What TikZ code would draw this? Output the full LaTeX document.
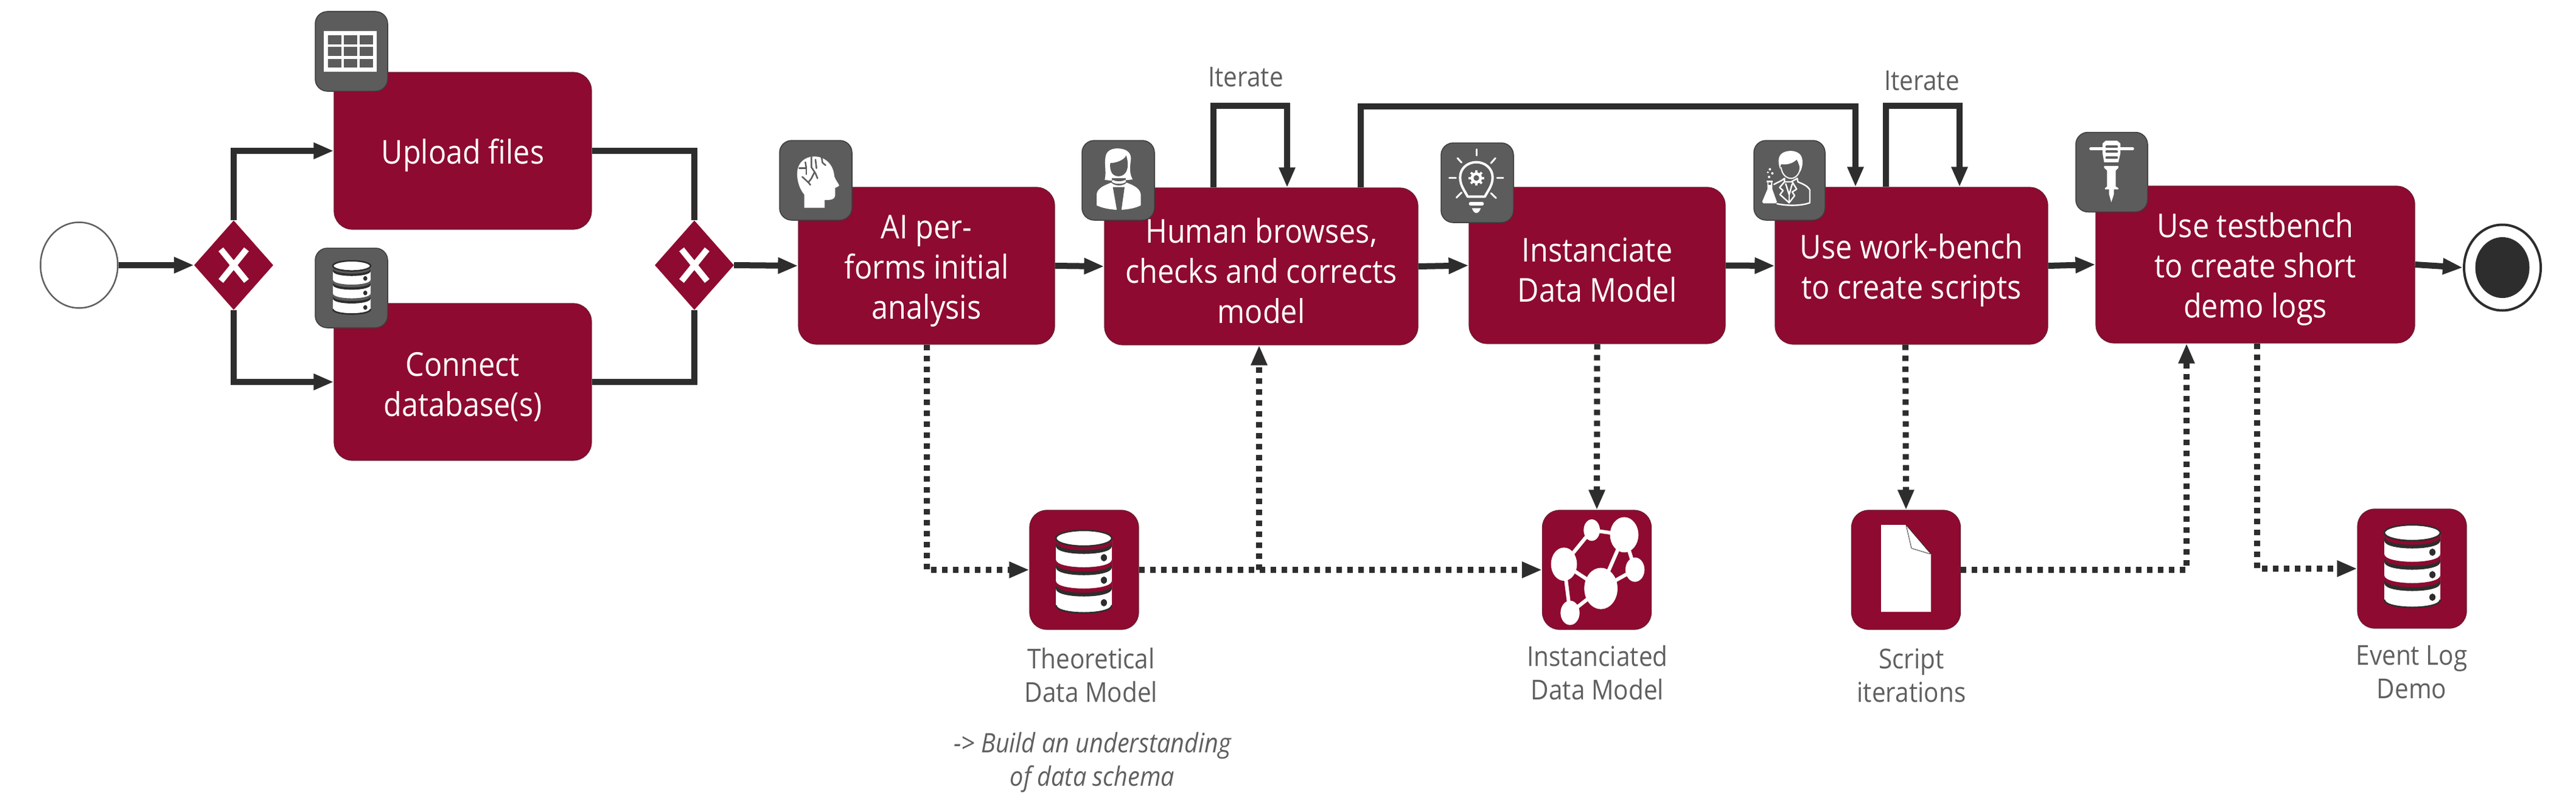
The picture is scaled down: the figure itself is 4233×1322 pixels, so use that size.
\documentclass[tikz,border=0pt]{standalone}
\usepackage{fontspec}
\setmainfont{Open Sans}[FakeStretch=0.9]
\usetikzlibrary{arrows.meta,shapes.geometric,calc}
\definecolor{maroon}{HTML}{8E0A30}
\definecolor{maroonline}{HTML}{6B1A30}
\definecolor{ink}{HTML}{2D2D2D}
\definecolor{slate}{HTML}{5C5C5C}
\definecolor{slateline}{HTML}{3C3C3C}
\definecolor{labelgray}{HTML}{5F5F5F}
\newcommand{\tasktop}{\rule{0pt}{55pt}}
\newcommand{\dbshape}[3]{% x, y origin; fill of band; 92x138 box scaled by scope
  \begin{scope}[shift={(#1,#2)}]
    \fill[white] (0,15) -- (0,125) .. controls (0,142) and (92,142) .. (92,125) -- (92,15) -- cycle;
    \draw[ink,line width=2.5pt] (0,125) .. controls (0,142) and (92,142) .. (92,125);
    \foreach \c in {15,50,85}{
      \fill[#3] (0,\c) .. controls (0,\c+17) and (92,\c+17) .. (92,\c) -- (92,\c+8) .. controls (92,\c+25) and (0,\c+25) .. (0,\c+8) -- cycle;
      \fill[ink] (0,\c+7) .. controls (0,\c+24) and (92,\c+24) .. (92,\c+7) -- (92,\c+13) .. controls (92,\c+30) and (0,\c+30) .. (0,\c+13) -- cycle;
    }
    \filldraw[fill=white,draw=ink,line width=2.5pt] (46,15) ellipse [x radius=46,y radius=13];
    \foreach \d in {47,84,121}{\fill[ink] (79,\d) ellipse [x radius=5,y radius=6];}
  \end{scope}}
\tikzset{
  task/.style={rectangle,rounded corners=30pt,fill=maroon,draw=maroonline,line width=1.2pt,text=white,align=center,inner sep=0pt,font=\fontsize{54}{66}\selectfont},
  dataobj/.style={rectangle,rounded corners=28pt,fill=maroon,draw=maroonline,line width=1.2pt,inner sep=0pt,minimum width=179pt,minimum height=196pt},
  iconbox/.style={rectangle,rounded corners=20pt,fill=slate,draw=slateline,line width=1.5pt,inner sep=0pt,minimum width=119pt,minimum height=131pt},
  gateway/.style={diamond,fill=maroon,inner sep=0pt,minimum width=130pt,minimum height=147pt},
  label/.style={text=labelgray,align=center,inner sep=0pt,font=\fontsize{45}{55}\selectfont},
  flow/.style={draw=ink,line width=10pt,-{Triangle[length=33pt,width=25pt]}},
  plainflow/.style={draw=ink,line width=10pt},
  dataflow/.style={draw=ink,line width=10pt,dash pattern=on 9pt off 9pt,-{Triangle[length=33pt,width=25pt]}},
  icoline/.style={white,line cap=round,line join=round},
}
\begin{document}
\begin{tikzpicture}[x=1pt,y=-1pt]
\useasboundingbox (0,0) rectangle (4233,1322);
\fill[white] (0,0) rectangle (4233,1322);
% events and gateways
\node[ellipse,draw=labelgray,fill=white,line width=2.5pt,inner sep=0pt,minimum width=127pt,minimum height=141pt] (start) at (130,436) {};
\node[gateway] (gw1) at (384,436) {};
\node[gateway] (gw2) at (1141,436) {};
\node[ellipse,draw=ink,fill=white,line width=4pt,inner sep=0pt,minimum width=126pt,minimum height=141pt] (finish) at (4112,440) {};
\fill[ink] (finish.center) ellipse [x radius=44.5,y radius=50];
\foreach \g in {gw1,gw2}{
  \draw[white,line width=10pt] ($(\g)+(-21,-26)$) -- ($(\g)+(21,26)$);
  \draw[white,line width=10pt] ($(\g)+(21,-26)$) -- ($(\g)+(-21,26)$);
}
% tasks
\node[task,minimum width=423pt,minimum height=258pt] (upload) at (760.5,248) {\tasktop Upload files};
\node[task,minimum width=423pt,minimum height=258pt] (connect) at (760.5,628) {\tasktop Connect\\database(s)};
\node[task,minimum width=421pt,minimum height=258pt] (ai) at (1522.5,437) {\tasktop AI per-\\forms initial\\analysis};
\node[task,minimum width=515pt,minimum height=258pt] (human) at (2072.5,438) {\tasktop Human browses,\\checks and corrects\\model};
\node[task,minimum width=421pt,minimum height=257pt] (inst) at (2624.5,436.5) {\tasktop Instanciate\\Data Model};
\node[task,minimum width=448pt,minimum height=258pt] (use) at (3141,437) {\tasktop Use work-bench\\to create scripts};
\node[task,minimum width=524pt,minimum height=258pt] (test) at (3706,435) {\tasktop Use testbench\\to create short\\demo logs};
% data objects
\node[dataobj] (theo) at (1781.5,937) {};
\node[dataobj] (imodel) at (2624,937) {};
\node[dataobj] (script) at (3132,937) {};
\node[dataobj] (evlog) at (3963.5,935) {};
% labels
\node[label] (ltheo) at (1793,1110) {Theoretical\\Data Model};
\node[label] (limodel) at (2625,1106) {Instanciated\\Data Model};
\node[label] (lscript) at (3141,1111) {Script\\iterations};
\node[label] (levlog) at (3963,1105) {Event Log\\Demo};
\node[label,font=\fontsize{44}{55}\selectfont\itshape] (lnote) at (1795,1254) {-> Build an understanding\\of data schema};
\node[label] (iter1) at (2047,127) {Iterate};
\node[label] (iter2) at (3158,133) {Iterate};
% sequence flows
\draw[flow] (start) -- (gw1);
\draw[flow] (gw1.north) |- (upload.west);
\draw[flow] (gw1.south) |- (connect.west);
\draw[plainflow] (upload.east) -| (gw2.north);
\draw[plainflow] (connect.east) -| (gw2.south);
\draw[flow] (gw2.east) -- (ai.west);
\draw[flow] (ai.east) -- (human.west);
\draw[flow] (human.east) -- (inst.west);
\draw[flow] (inst.east) -- (use.west);
\draw[flow] (use.east) -- (test.west);
\draw[flow] (test.east) -- (finish.west);
\draw[flow] ([xshift=-78.5pt]human.north) -- ++(0,-134) -| ([xshift=42.5pt]human.north);
\draw[flow] ([xshift=163.5pt]human.north) -- ++(0,-133) -| ([xshift=-92pt]use.north);
\draw[flow] ([xshift=-42pt]use.north) -- ++(0,-133) -| ([xshift=79pt]use.north);
% data flows
\coordinate (branch) at (2069,937);
\draw[dataflow] (ai.south) |- (theo.west);
\draw[dataflow] (theo.east) -- (imodel.west);
\draw[dataflow] (branch) -- (branch |- human.south);
\draw[dataflow] (inst.south) -- (imodel.north);
\draw[dataflow] ([xshift=-10pt]use.south) -- (script.north);
\draw[dataflow] (script.east) -| ([xshift=-113pt]test.south);
\draw[dataflow] ([xshift=3pt]test.south) |- (evlog.west);
% data object glyphs
\begin{scope}[shift={(1735,870)}]\dbshape{0}{0}{maroon}\end{scope}
\begin{scope}[shift={(3918,861)}]\dbshape{0}{0}{maroon}\end{scope}
\fill[white] (3091,863) -- (3132,863) -- (3173,911) -- (3173,1006) -- (3091,1006) -- cycle;
\filldraw[fill=white,draw=ink,line width=.8pt] (3132,863) -- (3141,901.5) -- (3172,911);
\fill[maroon] (3132,863) -- (3173,863) -- (3173,911) -- cycle;
\draw[ink,line width=.8pt] (3132,863) -- (3173,911);
\begin{scope}[shift={(2525,830)},x=.3333pt,y=-.3333pt]
  \draw[white,line width=6pt] (272,125) -- (432,148) -- (485,320) -- (317,413) -- (165,533) -- (135,293) -- (272,125);
  \draw[white,line width=6pt] (135,293) -- (317,413) -- (432,148);
  \fill[white] (272,125) ellipse [x radius=40,y radius=53];
  \fill[white] (432,148) ellipse [x radius=70,y radius=87];
  \fill[white] (485,320) ellipse [x radius=47,y radius=60];
  \fill[white] (317,413) ellipse [x radius=82,y radius=102];
  \fill[white] (165,533) ellipse [x radius=47,y radius=60];
  \fill[white] (135,293) ellipse [x radius=64,y radius=82];
\end{scope}
% resource icons
\node[iconbox] (ictable) at (577.5,84.5) {};
\fill[white] (532,51) rectangle (619,118);
\foreach \cx/\cw in {538.5/22.5,565/22,591/22}{
  \foreach \ry/\rh in {58/15,77.5/14.5,97/14}{
    \fill[slate] (\cx,\ry) rectangle ++(\cw,\rh);
  }}
\node[iconbox] (icdb) at (577.5,473.5) {};
\begin{scope}[shift={(547,427.5)},x=.674pt,y=-.645pt]\dbshape{0}{0}{slate}\end{scope}
\node[iconbox] (icai) at (1340.5,296.5) {};
\begin{scope}[shift={(1275,225)},x=.3333pt,y=-.3333pt]
  \fill[white] (140,350) -- (140,285) .. controls (115,255) and (103,215) .. (105,175) .. controls (108,125) and (145,97) .. (190,97) .. controls (245,97) and (285,140) .. (288,195) .. controls (295,215) and (310,232) .. (312,240) .. controls (305,248) and (295,250) .. (292,252) -- (292,290) .. controls (290,310) and (270,312) .. (240,312) -- (240,350) -- cycle;
  \draw[slate,line width=2.5pt,line cap=round,line join=round] (175,100) -- (175,150) -- (195,180) -- (205,205);
  \draw[slate,line width=2.5pt,line cap=round,line join=round] (195,112) -- (200,155);
  \draw[slate,line width=2.5pt,line cap=round,line join=round] (115,155) -- (150,155) -- (150,185);
  \draw[slate,line width=2.5pt,line cap=round,line join=round] (145,125) -- (150,155);
  \draw[slate,line width=2.5pt,line cap=round,line join=round] (130,197) -- (160,225) -- (175,205) -- (190,175);
  \draw[slate,line width=2.5pt,line cap=round,line join=round] (225,100) -- (230,128) -- (245,140);
  \draw[slate,line width=2.5pt,line cap=round] (160,225) -- (170,237);
\end{scope}
\node[iconbox] (ichuman) at (1837.5,296.5) {};
\begin{scope}[shift={(1772,225)},x=.3333pt,y=-.3333pt]
  \fill[white] (130,212) .. controls (140,170) and (125,130) .. (136,90) .. controls (145,62) and (175,55) .. (205,58) .. controls (240,62) and (265,80) .. (258,120) .. controls (252,160) and (255,190) .. (268,210) .. controls (235,215) and (170,220) .. (130,212) -- cycle;
  \fill[slate] (157,130) .. controls (190,128) and (225,115) .. (236,92) .. controls (248,130) and (245,160) .. (232,178) .. controls (215,200) and (180,200) .. (165,178) .. controls (158,165) and (155,150) .. (157,130) -- cycle;
  \fill[slate] (165,205) rectangle (235,225);
  \fill[white] (165,222) .. controls (180,235) and (220,235) .. (235,222) -- (232,212) .. controls (215,222) and (185,222) .. (168,212) -- cycle;
  \fill[white] (90,338) -- (90,285) .. controls (92,255) and (125,240) .. (162,226) .. controls (180,245) and (220,245) .. (238,226) .. controls (275,240) and (305,255) .. (308,285) -- (308,338) .. controls (285,350) and (250,358) .. (210,360) -- (190,360) .. controls (150,358) and (115,350) .. (90,338) -- cycle;
  \fill[slate] (170,248) -- (228,248) -- (212,362) -- (190,362) -- cycle;
\end{scope}
\node[iconbox] (icinst) at (2427.5,300.5) {};
\begin{scope}[shift={(2360,225)},x=.3333pt,y=-.3333pt]
  \draw[icoline,line width=4pt] (155,295) .. controls (140,265) and (118,240) .. (118,200) .. controls (118,155) and (155,125) .. (198,125) .. controls (240,125) and (278,155) .. (278,200) .. controls (278,240) and (255,265) .. (240,295) -- cycle;
  \foreach \xa/\ya/\xb/\yb in {198/62/198/92,105/105/125/127,292/105/270/130,65/203/97/203,300/203/330/203,100/300/125/275,295/302/270/278}{
    \draw[icoline,line width=3pt] (\xa,\ya) -- (\xb,\yb);
  }
  \fill[white] (198,203) circle [radius=28];
  \foreach \a in {0,45,...,315}{\draw[white,line width=3.8pt] (198,203) -- ++(\a:38);}
  \fill[slate] (198,203) circle [radius=14];
  \draw[icoline,line width=5.5pt] (169,330) -- (227,330);
  \fill[white] (176,352) -- (220,352) .. controls (215,368) and (205,376) .. (198,376) .. controls (191,376) and (181,368) .. (176,352) -- cycle;
\end{scope}
\node[iconbox,minimum width=117pt] (icuse) at (2940.5,296.5) {};
\begin{scope}[shift={(2875,225)},x=.3333pt,y=-.3333pt]
  \fill[white] (150,160) .. controls (138,120) and (140,92) .. (165,78) .. controls (195,62) and (240,68) .. (255,95) .. controls (265,120) and (262,145) .. (250,172) .. controls (248,145) and (240,125) .. (232,112) .. controls (215,130) and (185,140) .. (155,135) -- cycle;
  \draw[white,line width=2pt] (155,150) .. controls (160,190) and (185,205) .. (205,205) .. controls (225,205) and (248,185) .. (250,150);
  \draw[icoline,line width=2.4pt] (120,235) .. controls (135,225) and (155,220) .. (172,205) -- (172,222) -- (205,222) -- (235,205) -- (238,222) .. controls (260,232) and (285,240) .. (297,262) -- (297,325) .. controls (260,340) and (190,342) .. (135,330);
  \draw[icoline,line width=2.4pt] (172,222) -- (148,250) -- (165,265) -- (150,285) -- (195,325) -- (222,290) -- (210,272) -- (232,258) -- (210,222);
  \draw[icoline,line width=2.4pt] (178,232) -- (195,285) -- (210,232);
  \draw[icoline,line width=2.4pt] (195,285) -- (195,325);
  \fill[white] (85,215) rectangle (115,226);
  \fill[white] (88,226) -- (112,226) -- (112,258) -- (135,322) -- (128,328) -- (68,328) -- (62,320) -- (88,258) -- cycle;
  \fill[slate] (94,226) rectangle (106,238);
  \foreach \px/\py/\pr in {100/160/6,90/175/5,112/180/6,96/198/6}{\fill[white] (\px,\py) circle [radius=\pr];}
\end{scope}
\node[iconbox,minimum width=118pt] (ictest) at (3470,283) {};
\begin{scope}[shift={(3405,212)},x=.3333pt,y=-.3333pt]
  \draw[icoline,line width=5pt] (92,98) -- (298,98);
  \fill[white] (150,72) -- (165,58) -- (222,58) -- (238,72) -- (238,120) -- (228,165) -- (158,165) -- (150,120) -- cycle;
  \foreach \sy in {88,112,142}{\draw[slate,line width=4pt,line cap=round] (170,\sy) -- (220,\sy);}
  \fill[white] (158,183) -- (228,183) -- (228,192) -- (215,205) -- (215,284) -- (228,292) -- (228,298) -- (206,298) -- (206,322) -- (193,362) -- (182,322) -- (182,298) -- (162,298) -- (162,292) -- (172,284) -- (172,205) -- (158,192) -- cycle;
\end{scope}
\end{tikzpicture}
\end{document}
